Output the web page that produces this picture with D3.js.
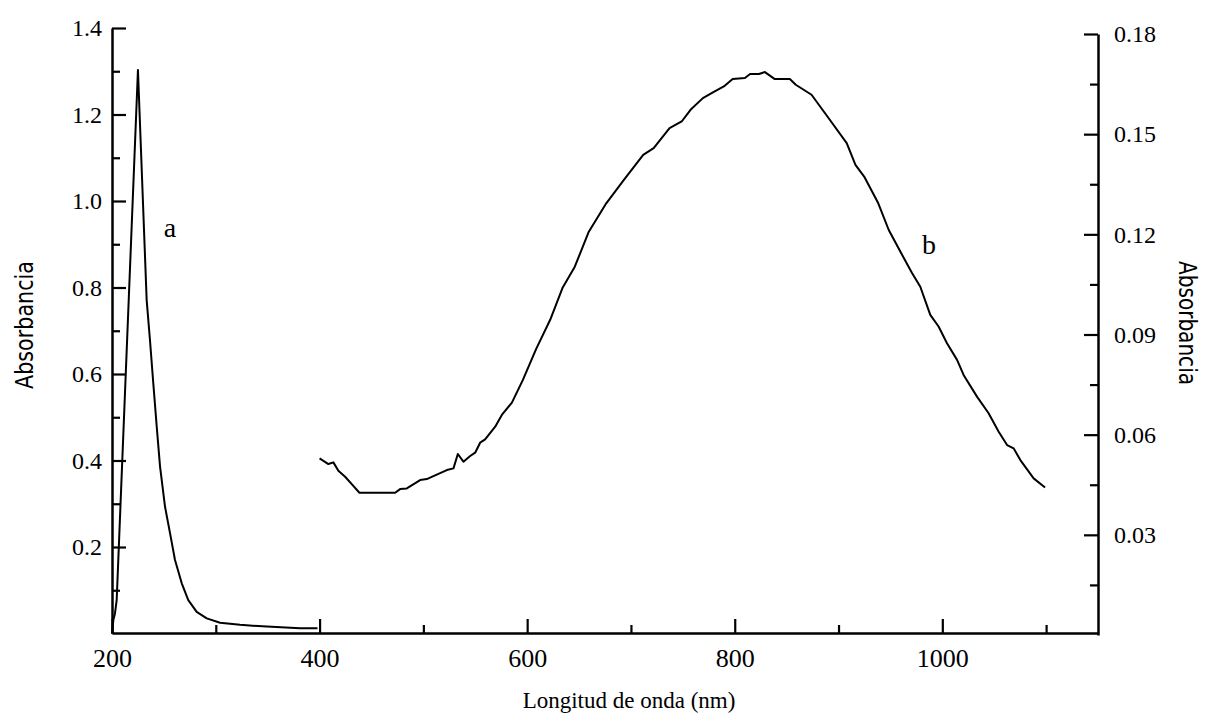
<!DOCTYPE html>
<html>
<head>
<meta charset="utf-8">
<script src="https://cdn.jsdelivr.net/npm/d3@7"></script>
<style>
  body { margin: 0; background: #fff; }
  svg { display: block; }
</style>
</head>
<body>
<div id="chart-area"></div>
<script>
// espectro UV-Vis, curva a (eje izq.) y curva b (eje der.)
var width = 1209, height = 724;

var waveA = [200, 201.3, 202.9, 204.5, 225, 233.4, 236.6, 239.8, 243.1, 246.3, 251.1, 255.9, 260.7, 267.2, 273.5, 281.6, 291.3, 304.1, 323.4, 349.1, 381.2, 398];
var absA  = [0, 0.031, 0.047, 0.077, 1.303, 0.771, 0.678, 0.578, 0.478, 0.386, 0.293, 0.232, 0.170, 0.116, 0.077, 0.050, 0.035, 0.025, 0.020, 0.016, 0.012, 0.012];

var waveB = [400, 408.5, 413.3, 418.1, 424.6, 431, 438.4, 472.8, 477.6, 484, 496.9, 503.3, 509.7, 522.6, 529, 533.2, 538.6, 545.1, 549.9, 554.7, 559.5, 569.2, 575.6, 585.3, 595.9, 608.7, 622.2, 634, 645.9, 659.4, 676.2, 693.2, 711.8, 721.9, 737.2, 748.9, 757.4, 769.3, 779.4, 789.5, 798, 809.8, 814.8, 823.3, 829.1, 838.6, 853.1, 858.8, 874, 889.3, 907.9, 916.3, 924.7, 938.3, 948.4, 960.3, 970.8, 978.8, 988.4, 996.4, 1004.5, 1014.2, 1020.5, 1033.4, 1044.6, 1054.3, 1062.4, 1068.7, 1075.2, 1088, 1099];
var absB  = [0.0529, 0.0512, 0.0517, 0.0492, 0.0474, 0.0452, 0.0426, 0.0426, 0.0437, 0.0439, 0.0464, 0.0467, 0.0476, 0.0494, 0.0499, 0.0542, 0.0519, 0.0536, 0.0546, 0.0576, 0.0586, 0.0624, 0.0659, 0.0696, 0.0764, 0.0857, 0.0944, 0.1039, 0.1103, 0.1208, 0.1293, 0.1363, 0.1438, 0.1458, 0.1518, 0.1538, 0.1573, 0.1608, 0.1626, 0.1643, 0.1665, 0.1668, 0.1680, 0.1680, 0.1686, 0.1665, 0.1665, 0.1648, 0.1618, 0.1553, 0.1473, 0.1408, 0.1373, 0.1293, 0.1213, 0.1144, 0.1084, 0.1043, 0.0959, 0.0924, 0.0874, 0.0824, 0.0779, 0.0714, 0.0664, 0.0609, 0.0569, 0.0559, 0.0524, 0.0469, 0.0442];

var xTicks = [200, 400, 600, 800, 1000];
var xMinor = [300, 500, 700, 900, 1100];
var yLeftTicks = [0.2, 0.4, 0.6, 0.8, 1.0, 1.2, 1.4];
var yLeftMinor = [0.1, 0.3, 0.5, 0.7, 0.9, 1.1, 1.3];
var yRightTicks = [0.03, 0.06, 0.09, 0.12, 0.15, 0.18];
var yRightMinor = [0.015, 0.045, 0.075, 0.105, 0.135, 0.165];

var serif = "Liberation Serif, Times New Roman, serif";

var svg = d3.select("#chart-area")
    .append("svg")
        .attr("width", width)
        .attr("height", height);

var x = d3.scaleLinear().domain([200, 1150]).range([112, 1098]);
var yL = d3.scaleLinear().domain([0, 1.4]).range([633.5, 28]);
var yR = d3.scaleLinear().domain([0, 0.18]).range([635, 34]);

// eje x
var gx = svg.append("g").attr("transform", "translate(0,633)")
    .call(d3.axisBottom(x).tickValues(xTicks).tickSize(-14).tickSizeOuter(0).tickPadding(16).tickFormat(d3.format("d")));
gx.append("g")
    .call(d3.axisBottom(x).tickValues(xMinor).tickSize(-8).tickFormat(""))
    .select(".domain").remove();

// eje izquierdo
var gl = svg.append("g").attr("transform", "translate(112,0)")
    .call(d3.axisLeft(yL).tickValues(yLeftTicks).tickSize(-14).tickSizeOuter(0).tickPadding(10).tickFormat(d3.format(".1f")));
gl.append("g")
    .call(d3.axisLeft(yL).tickValues(yLeftMinor).tickSize(-8).tickFormat(""))
    .select(".domain").remove();

// eje derecho
var gr = svg.append("g").attr("transform", "translate(1098,0)")
    .call(d3.axisRight(yR).tickValues(yRightTicks).tickSize(-14).tickSizeOuter(0).tickPadding(16).tickFormat(d3.format(".2f")));
gr.append("g")
    .call(d3.axisRight(yR).tickValues(yRightMinor).tickSize(-8).tickFormat(""))
    .select(".domain").remove();

svg.selectAll(".domain").attr("stroke", "#000").attr("stroke-width", 2.5);
svg.selectAll(".tick line").attr("stroke", "#000").attr("stroke-width", 2.2);
svg.selectAll(".tick text")
    .attr("font-family", serif)
    .attr("font-size", 24)
    .attr("fill", "#000");
gx.attr("font-family", serif);
gl.attr("font-family", serif);
gr.attr("font-family", serif);
gx.selectAll(".tick text").attr("font-size", 26);

// curvas
var dataA = waveA.map((w, i) => ({ w: w, v: absA[i] }));
var dataB = waveB.map((w, i) => ({ w: w, v: absB[i] }));

svg.append("path")
    .datum(dataA)
    .attr("fill", "none")
    .attr("stroke", "#000")
    .attr("stroke-width", 2)
    .attr("stroke-linejoin", "round")
    .attr("d", d3.line().x(d => x(d.w)).y(d => yL(d.v)));

svg.append("path")
    .datum(dataB)
    .attr("fill", "none")
    .attr("stroke", "#000")
    .attr("stroke-width", 2)
    .attr("stroke-linejoin", "round")
    .attr("d", d3.line().x(d => x(d.w)).y(d => yR(d.v)));

// etiquetas
svg.append("text")
    .attr("x", 170).attr("y", 237)
    .attr("text-anchor", "middle")
    .attr("font-family", serif)
    .attr("font-size", 28)
    .text("a");

svg.append("text")
    .attr("x", 929).attr("y", 254)
    .attr("text-anchor", "middle")
    .attr("font-family", serif)
    .attr("font-size", 28)
    .text("b");

svg.append("text")
    .attr("x", 629).attr("y", 708)
    .attr("text-anchor", "middle")
    .attr("font-family", serif)
    .attr("font-size", 23)
    .text("Longitud de onda (nm)");

svg.append("text")
    .attr("transform", "translate(33,325) rotate(-90)")
    .attr("text-anchor", "middle")
    .attr("font-family", "Liberation Sans Narrow, DejaVu Sans Condensed, sans-serif")
    .attr("font-size", 24)
    .attr("textLength", 128)
    .attr("lengthAdjust", "spacingAndGlyphs")
    .text("Absorbancia");

svg.append("text")
    .attr("transform", "translate(1179,323) rotate(90)")
    .attr("text-anchor", "middle")
    .attr("font-family", "Liberation Sans Narrow, DejaVu Sans Condensed, sans-serif")
    .attr("font-size", 24)
    .attr("textLength", 124)
    .attr("lengthAdjust", "spacingAndGlyphs")
    .text("Absorbancia");
</script>
</body>
</html>
